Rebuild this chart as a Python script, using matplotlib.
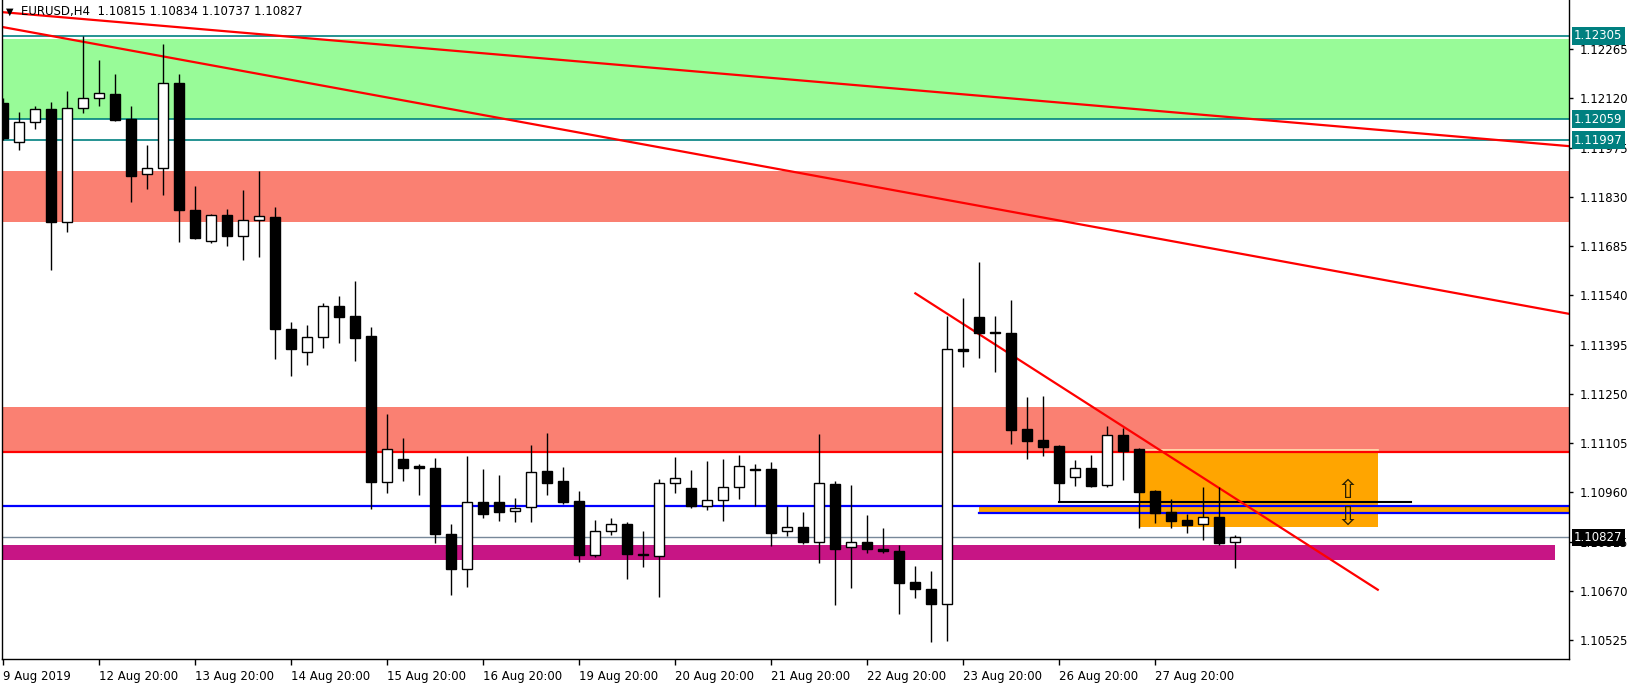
import numpy as np
import matplotlib
matplotlib.use("Agg")
import matplotlib.pyplot as plt
from matplotlib.patches import Rectangle

# EURUSD H4 candles
opens = [1.12107, 1.11991, 1.12050, 1.12088, 1.11755, 1.12091, 1.12120, 1.12133, 1.12059, 1.11897,
         1.11914, 1.12165, 1.11791, 1.11699, 1.11776, 1.11714, 1.11761, 1.11771, 1.11441, 1.11372,
         1.11416, 1.11508, 1.11479, 1.11420, 1.10991, 1.11058, 1.11037, 1.11031, 1.10837, 1.10735,
         1.10930, 1.10930, 1.10904, 1.10916, 1.11022, 1.10993, 1.10934, 1.10774, 1.10845, 1.10868,
         1.10779, 1.10771, 1.10986, 1.10974, 1.10921, 1.10936, 1.10977, 1.11030, 1.11028, 1.10845,
         1.10858, 1.10815, 1.10984, 1.10799, 1.10815, 1.10794, 1.10788, 1.10696, 1.10674, 1.10630,
         1.11381, 1.11475, 1.11432, 1.11428, 1.11145, 1.11113, 1.11096, 1.11004, 1.11033, 1.10982,
         1.11128, 1.11088, 1.10964, 1.10901, 1.10878, 1.10866, 1.10887, 1.10815]
highs = [1.12121, 1.12079, 1.12097, 1.12110, 1.12142, 1.12304, 1.12233, 1.12192, 1.12098, 1.11983,
         1.12280, 1.12192, 1.11862, 1.11780, 1.11794, 1.11850, 1.11906, 1.11800, 1.11461, 1.11452,
         1.11517, 1.11538, 1.11582, 1.11447, 1.11190, 1.11120, 1.11042, 1.11061, 1.10866, 1.11066,
         1.11028, 1.11010, 1.10944, 1.11099, 1.11134, 1.11034, 1.10964, 1.10878, 1.10884, 1.10872,
         1.10846, 1.10999, 1.11063, 1.11026, 1.11052, 1.11058, 1.11070, 1.11043, 1.11049, 1.10919,
         1.10902, 1.11132, 1.10993, 1.10981, 1.10893, 1.10855, 1.10804, 1.10744, 1.10728, 1.11479,
         1.11531, 1.11638, 1.11478, 1.11526, 1.11240, 1.11243, 1.11100, 1.11054, 1.11069, 1.11155,
         1.11150, 1.11091, 1.10967, 1.10940, 1.10897, 1.10977, 1.10975, 1.10834]
lows = [1.11998, 1.11969, 1.12029, 1.11616, 1.11726, 1.12076, 1.12097, 1.12053, 1.11816, 1.11854,
        1.11836, 1.11698, 1.11706, 1.11695, 1.11686, 1.11645, 1.11654, 1.11353, 1.11303, 1.11336,
        1.11386, 1.11400, 1.11347, 1.10911, 1.10958, 1.10994, 1.10952, 1.10810, 1.10658, 1.10682,
        1.10885, 1.10876, 1.10873, 1.10873, 1.10952, 1.10926, 1.10755, 1.10770, 1.10834, 1.10705,
        1.10741, 1.10652, 1.10958, 1.10914, 1.10908, 1.10876, 1.10939, 1.10921, 1.10803, 1.10832,
        1.10808, 1.10752, 1.10629, 1.10677, 1.10782, 1.10782, 1.10602, 1.10649, 1.10519, 1.10522,
        1.11330, 1.11356, 1.11315, 1.11103, 1.11059, 1.11068, 1.10931, 1.10979, 1.10975, 1.10975,
        1.10997, 1.10854, 1.10869, 1.10855, 1.10840, 1.10820, 1.10804, 1.10737]
closes = [1.12004, 1.12050, 1.12088, 1.11755, 1.12091, 1.12120, 1.12135, 1.12057, 1.11892, 1.11914,
          1.12165, 1.11792, 1.11710, 1.11776, 1.11716, 1.11761, 1.11773, 1.11442, 1.11383, 1.11416,
          1.11508, 1.11477, 1.11415, 1.10991, 1.11089, 1.11032, 1.11033, 1.10837, 1.10735, 1.10930,
          1.10897, 1.10903, 1.10913, 1.11019, 1.10988, 1.10932, 1.10776, 1.10845, 1.10866, 1.10779,
          1.10775, 1.10986, 1.11001, 1.10920, 1.10936, 1.10977, 1.11036, 1.11027, 1.10841, 1.10857,
          1.10814, 1.10986, 1.10794, 1.10815, 1.10792, 1.10788, 1.10694, 1.10674, 1.10632, 1.11381,
          1.11376, 1.11430, 1.11428, 1.11144, 1.11112, 1.11094, 1.10988, 1.11033, 1.10979, 1.11128,
          1.11082, 1.10961, 1.10898, 1.10876, 1.10864, 1.10886, 1.10812, 1.10827]

time_ticks = [0, 6, 12, 18, 24, 30, 36, 42, 48, 54, 60, 66, 72]
time_labels = ["9 Aug 2019", "12 Aug 20:00", "13 Aug 20:00", "14 Aug 20:00", "15 Aug 20:00",
               "16 Aug 20:00", "19 Aug 20:00", "20 Aug 20:00", "21 Aug 20:00", "22 Aug 20:00",
               "23 Aug 20:00", "26 Aug 20:00", "27 Aug 20:00"]
price_ticks = [1.12265, 1.12120, 1.11975, 1.11830, 1.11685, 1.11540, 1.11395, 1.11250,
               1.11105, 1.10960, 1.10815, 1.10670, 1.10525]

# zones and lines drawn on the chart (price levels)
green_zone = (1.12059, 1.12295)
teal_levels = [1.12305, 1.12059, 1.11997]
salmon_zones = [(1.11757, 1.11906), (1.11079, 1.11212)]
red_level = 1.11079
blue_levels = [1.10920, 1.10900]
blue_band_start = 61
magenta_zone = (1.10760, 1.10805)
magenta_end = 97
last_price = 1.10827
orange_box = (71, 85.9, 1.10857, 1.11084)
black_level = (66, 88, 1.10931)
arrow_x = 84
arrow_up_y = 1.10963
arrow_down_y = 1.10884
trend_long1 = [(0, 1.12374), (97, 1.11983)]
trend_long2 = [(0, 1.12330), (97, 1.11493)]
trend_short = [(57, 1.11546), (85.9, 1.10673)]

fig = plt.figure(figsize=(16.33, 6.83), dpi=100)
ax = fig.add_axes([2 / 1633, 24 / 683, 1567 / 1633, 659 / 683])
ax.set_xlim(-0.08, 97.85)
ax.set_ylim(1.10469, 1.12410)

# background objects
ax.axhspan(green_zone[0], green_zone[1], color="#98FB98", lw=0, zorder=1)
for lo, hi in salmon_zones:
    ax.axhspan(lo, hi, color="#FA8072", lw=0, zorder=1)
for lv in teal_levels:
    ax.axhline(lv, color="#008080", lw=1.2, zorder=2)
ax.axhline(red_level, color="#FF0000", lw=1.6, zorder=2)
ax.axhline(last_price, color="#778899", lw=1, zorder=2)
ax.add_patch(Rectangle((-1, magenta_zone[0]), magenta_end + 1, magenta_zone[1] - magenta_zone[0],
                       color="#C71585", lw=0, zorder=1))
ax.add_patch(Rectangle((orange_box[0], orange_box[2]), orange_box[1] - orange_box[0],
                       orange_box[3] - orange_box[2], color="#FFA500", lw=0, zorder=1.5))
ax.plot([orange_box[0], orange_box[1]], [orange_box[3], orange_box[3]], color="#FFE4B5", lw=1.2, zorder=1.6)
ax.add_patch(Rectangle((blue_band_start, blue_levels[1]), 40, blue_levels[0] - blue_levels[1],
                       color="#FFA500", lw=0, zorder=1.6))
ax.axhline(blue_levels[0], color="#0000FF", lw=1.6, zorder=2)
ax.plot([blue_band_start, 100], [blue_levels[1]] * 2, color="#0000FF", lw=1.6, zorder=2)
ax.plot([black_level[0], black_level[1]], [black_level[2]] * 2, color="black", lw=1.5, zorder=2)

for line in (trend_long1, trend_long2):
    ax.axline(line[0], line[1], color="#FF0000", lw=1.6, zorder=2)
ax.plot([p[0] for p in trend_short], [p[1] for p in trend_short], color="#FF0000", lw=1.6, zorder=2)

ax.text(arrow_x, arrow_up_y, "\u21e7", fontsize=19, ha="center", va="center", color="#2b2000", zorder=3)
ax.text(arrow_x, arrow_down_y, "\u21e9", fontsize=19, ha="center", va="center", color="#2b2000", zorder=3)

# candles
o = np.array(opens)
c = np.array(closes)
x = np.arange(len(o))
up = c >= o
ax.vlines(x, lows, highs, color="black", lw=1, zorder=4)
body_lo = np.minimum(o, c)
body_h = np.maximum(np.abs(c - o), 0.000015)
ax.bar(x, body_h, bottom=body_lo, width=0.62, color=np.where(up, "white", "black"),
       edgecolor="black", linewidth=1, zorder=5)

# axes styling
ax.spines["top"].set_visible(False)
for s in ("left", "right", "bottom"):
    ax.spines[s].set_linewidth(1)
ax.yaxis.tick_right()
ax.set_yticks(price_ticks)
ax.set_yticklabels([f"{p:.5f}" for p in price_ticks], fontsize=8.5)
ax.tick_params(axis="y", length=3, pad=5, width=1)
ax.set_xticks(time_ticks)
ax.set_xticklabels(time_labels, fontsize=8.5, ha="left")
ax.tick_params(axis="x", length=4, pad=4, width=1)

for lv in teal_levels:
    ax.annotate(f"{lv:.5f}", xy=(1, lv), xycoords=("axes fraction", "data"), xytext=(5, 0),
                textcoords="offset pixels", ha="left", va="center", fontsize=8.5, color="white",
                bbox=dict(boxstyle="square,pad=0.2", fc="#008080", ec="none"), zorder=10,
                annotation_clip=False)
ax.annotate(f"{last_price:.5f}", xy=(1, last_price), xycoords=("axes fraction", "data"), xytext=(5, 0),
            textcoords="offset pixels", ha="left", va="center", fontsize=8.5, color="white",
            bbox=dict(boxstyle="square,pad=0.2", fc="black", ec="none"), zorder=10,
            annotation_clip=False)

fig.text(10 / 1633, 1 - 12 / 683, "\u25bc", fontsize=7, ha="center", va="center")
fig.text(21 / 1633, 1 - 12 / 683, "EURUSD,H4  1.10815 1.10834 1.10737 1.10827", fontsize=8.5,
         ha="left", va="center")

fig.savefig("out.png", dpi=100)
